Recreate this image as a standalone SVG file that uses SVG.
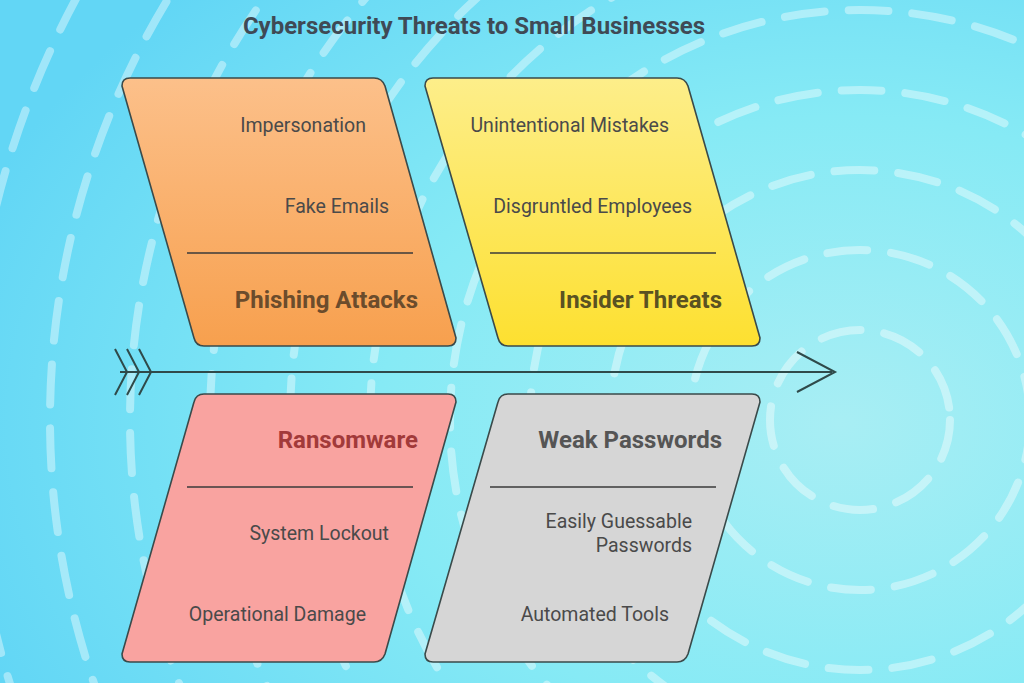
<svg xmlns="http://www.w3.org/2000/svg" width="1024" height="683" viewBox="0 0 1024 683">
<defs>
<radialGradient id="bg" cx="0.82" cy="0.62" r="0.9"><stop offset="0" stop-color="#a8eef4"/><stop offset="0.5" stop-color="#86eaf5"/><stop offset="1" stop-color="#62d6f5"/></radialGradient>
<linearGradient id="gO" x1="0" y1="0" x2="0" y2="1"><stop offset="0" stop-color="#fcc08a"/><stop offset="1" stop-color="#f7a04e"/></linearGradient>
<linearGradient id="gY" x1="0" y1="0" x2="0" y2="1"><stop offset="0" stop-color="#fdee8a"/><stop offset="1" stop-color="#fde030"/></linearGradient>
<style>
.ring{fill:none;stroke:#ffffff;stroke-opacity:0.4;stroke-width:8;stroke-linecap:round;stroke-dasharray:40 24}
.box{stroke:#3a4a4a;stroke-width:1.6;stroke-linejoin:round}
.div{stroke:#3a3a3a;stroke-width:1.6}
.t{font-family:Roboto,"Liberation Sans",sans-serif;font-size:19.5px;fill:#4a4a4a;text-anchor:end}
.h{font-family:Roboto,"Liberation Sans",sans-serif;font-size:24px;font-weight:bold;text-anchor:end}
.ln{fill:none;stroke:#2f4a4a;stroke-width:2}
</style>
</defs>
<rect width="1024" height="683" fill="url(#bg)"/>
<g>
<circle class="ring" cx="860" cy="420" r="90"/>
<circle class="ring" cx="860" cy="420" r="170"/>
<circle class="ring" cx="860" cy="420" r="250"/>
<circle class="ring" cx="860" cy="420" r="330"/>
<circle class="ring" cx="860" cy="420" r="410"/>
<circle class="ring" cx="860" cy="420" r="490"/>
<circle class="ring" cx="860" cy="420" r="570"/>
<circle class="ring" cx="860" cy="420" r="650"/>
<circle class="ring" cx="860" cy="420" r="730"/>
<circle class="ring" cx="860" cy="420" r="810"/>
<circle class="ring" cx="860" cy="420" r="890"/>
</g>
<text x="474" y="34" text-anchor="middle" font-family="Roboto,'Liberation Sans',sans-serif" font-size="24" font-weight="bold" fill="#3f4a55">Cybersecurity Threats to Small Businesses</text>
<g id="connectors">
<line class="ln" x1="120" y1="372" x2="832" y2="372"/>
<polyline class="ln" points="797,352 835,372 797,392"/>
<polyline class="ln" points="115,349 127,372 115,395"/>
<polyline class="ln" points="127,349 139,372 127,395"/>
<polyline class="ln" points="139,349 151,372 139,395"/>
</g>
<g id="phishing">
<path class="box" fill="url(#gO)" d="M130,78 H374 Q382,78 385,86 L456,338 Q456,346 448,346 H204 Q196,346 194,338 L122,86 Q122,78 130,78 Z"/>
<line class="div" x1="187" y1="253" x2="413" y2="253"/>
<text class="t" x="366" y="132">Impersonation</text>
<text class="t" x="389" y="213">Fake Emails</text>
<text class="h" x="418" y="308" fill="#6b4c2c">Phishing Attacks</text>
</g>
<g id="insider">
<path class="box" fill="url(#gY)" d="M433,78 H677 Q685,78 688,86 L760,338 Q760,346 752,346 H508 Q500,346 498,338 L425,86 Q425,78 433,78 Z"/>
<line class="div" x1="490" y1="253" x2="716" y2="253"/>
<text class="t" x="669" y="132">Unintentional Mistakes</text>
<text class="t" x="692" y="213">Disgruntled Employees</text>
<text class="h" x="722" y="308" fill="#5a5222">Insider Threats</text>
</g>
<g id="ransomware">
<path class="box" fill="#f9a3a0" d="M204,394 H448 Q456,394 456,402 L385,654 Q382,662 374,662 H130 Q122,662 122,654 L194,402 Q196,394 204,394 Z"/>
<line class="div" x1="187" y1="487" x2="413" y2="487"/>
<text class="h" x="418" y="448" fill="#a23a3a">Ransomware</text>
<text class="t" x="389" y="540">System Lockout</text>
<text class="t" x="366" y="621">Operational Damage</text>
</g>
<g id="weak">
<path class="box" fill="#d6d6d6" d="M508,394 H752 Q760,394 760,402 L688,654 Q685,662 677,662 H433 Q425,662 425,654 L498,402 Q500,394 508,394 Z"/>
<line class="div" x1="490" y1="487" x2="716" y2="487"/>
<text class="h" x="722" y="448" fill="#555555">Weak Passwords</text>
<text class="t" x="692" y="528">Easily Guessable</text>
<text class="t" x="692" y="552">Passwords</text>
<text class="t" x="669" y="621">Automated Tools</text>
</g>
</svg>
